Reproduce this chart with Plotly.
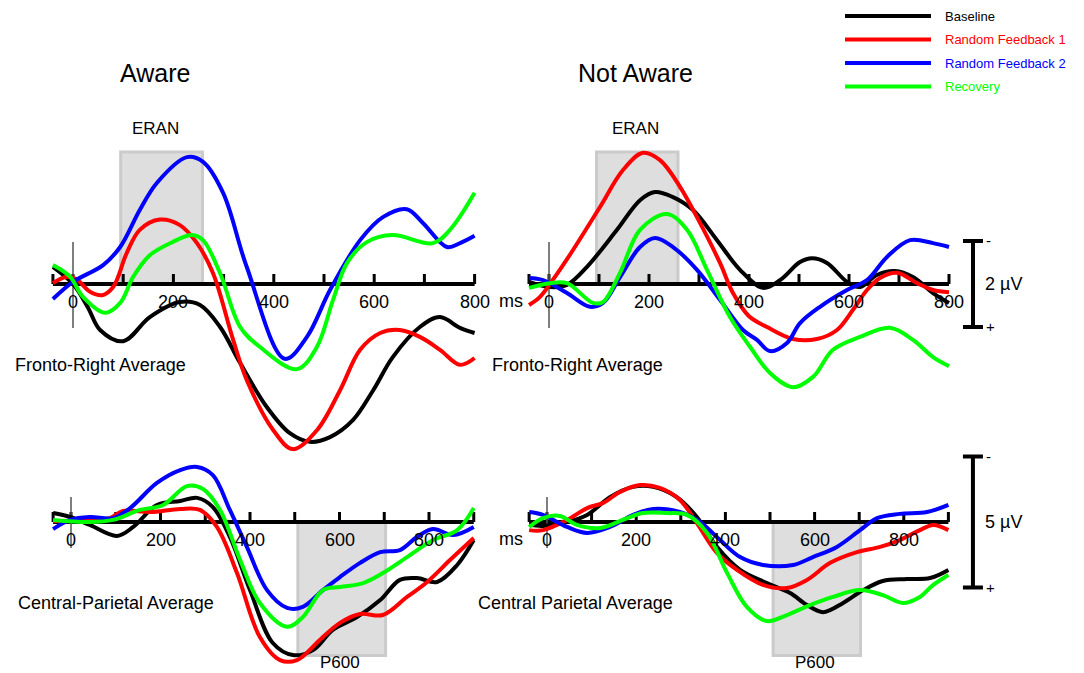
import plotly.graph_objects as go

W, H = 1084, 673
FONT = "Liberation Sans, Arial, sans-serif"

series_names = ["Baseline", "Random Feedback 1", "Random Feedback 2", "Recovery"]
series_colors = ["#000000", "#ff0000", "#0000ff", "#00ff00"]

# ---- Aware, fronto-right average (time in ms, amplitude in µV) ----
tl_black_t = [-40, 0, 30, 54, 100, 153, 213, 253, 293, 333, 386, 432, 472, 512, 558, 598, 637, 691, 731, 771, 800]
tl_black_v = [-0.4, 0.0, 0.55, 1.07, 1.33, 0.77, 0.42, 0.49, 1.0, 1.84, 2.86, 3.47, 3.67, 3.56, 3.16, 2.47, 1.70, 1.0, 0.77, 1.02, 1.14]
tl_red_t = [-40, -12, 8, 34, 58, 80, 107, 133, 173, 213, 247, 279, 319, 346, 399, 438, 486, 532, 572, 612, 651, 691, 731, 771, 800]
tl_red_v = [-0.02, -0.17, -0.1, 0.18, 0.26, 0.07, -0.72, -1.26, -1.5, -1.37, -0.95, -0.25, 1.3, 2.23, 3.40, 3.84, 3.40, 2.47, 1.53, 1.14, 1.07, 1.23, 1.53, 1.88, 1.72]
tl_blue_t = [-40, 0, 60, 94, 133, 167, 227, 259, 299, 346, 422, 466, 512, 572, 618, 665, 697, 745, 771, 800]
tl_blue_v = [0.35, -0.05, -0.44, -0.86, -1.72, -2.35, -2.95, -2.84, -2.12, -0.4, 1.74, 1.23, 0.14, -1.02, -1.56, -1.74, -1.42, -0.86, -0.95, -1.12]
tl_green_t = [-40, -6, 20, 64, 94, 120, 153, 199, 237, 259, 293, 333, 372, 446, 486, 518, 546, 586, 637, 717, 751, 800]
tl_green_v = [-0.44, -0.17, 0.30, 0.67, 0.44, -0.17, -0.67, -0.98, -1.14, -1.02, -0.25, 1.0, 1.46, 1.98, 1.46, 0.37, -0.49, -0.98, -1.14, -0.95, -1.26, -2.12]

# ---- Not aware, fronto-right average ----
tr_black_t = [-40, 2, 36, 76, 136, 182, 212, 248, 288, 336, 382, 428, 462, 502, 526, 556, 596, 622, 656, 692, 728, 768, 800]
tr_black_v = [-0.05, 0.07, 0.02, -0.4, -1.26, -1.95, -2.14, -2.02, -1.72, -1.02, -0.33, 0.09, -0.09, -0.51, -0.6, -0.49, -0.05, 0.07, -0.21, -0.3, -0.16, 0.21, 0.44]
tr_red_t = [-40, -18, 8, 48, 102, 148, 188, 222, 262, 302, 342, 368, 400, 436, 488, 536, 576, 608, 636, 662, 696, 736, 768, 800]
tr_red_v = [0.49, 0.3, -0.1, -0.79, -1.79, -2.65, -3.05, -2.88, -2.26, -1.42, -0.49, 0.21, 0.75, 1.0, 1.28, 1.28, 1.07, 0.6, 0.14, -0.14, -0.26, -0.02, 0.14, 0.19]
tr_blue_t = [-40, -12, 36, 82, 108, 142, 182, 212, 248, 296, 342, 388, 416, 442, 476, 502, 542, 596, 636, 676, 722, 768, 800]
tr_blue_v = [-0.14, -0.09, 0.21, 0.53, 0.44, -0.16, -0.86, -1.07, -0.86, -0.33, 0.37, 1.07, 1.30, 1.56, 1.37, 0.91, 0.53, 0.14, -0.09, -0.63, -1.02, -0.95, -0.86]
tr_green_t = [-40, 2, 36, 88, 108, 142, 182, 236, 276, 316, 362, 402, 442, 488, 528, 568, 622, 682, 728, 768, 800]
tr_green_v = [0.09, -0.02, -0.02, 0.44, 0.42, -0.26, -1.26, -1.63, -1.26, -0.33, 0.77, 1.46, 2.07, 2.40, 2.16, 1.53, 1.23, 1.02, 1.30, 1.70, 1.91]

# ---- Aware, central-parietal average ----
bl_black_t = [-40, -2, 42, 103, 139, 192, 244, 282, 317, 355, 400, 451, 496, 541, 585, 639, 691, 735, 773, 818, 863, 900]
bl_black_v = [-0.34, -0.19, 0.11, 0.53, 0.19, -0.65, -0.80, -0.92, -0.57, 0.57, 2.60, 4.62, 5.08, 4.89, 4.12, 3.63, 2.98, 2.21, 2.14, 2.29, 1.64, 0.69]
bl_red_t = [-40, 42, 87, 116, 177, 244, 288, 326, 371, 422, 467, 505, 556, 601, 646, 697, 751, 796, 847, 900]
bl_red_v = [-0.04, -0.08, -0.15, -0.42, -0.38, -0.50, -0.46, 0.19, 1.95, 4.39, 5.27, 5.27, 4.50, 3.85, 3.51, 3.55, 2.86, 2.29, 1.45, 0.61]
bl_blue_t = [-40, -2, 42, 94, 132, 192, 244, 282, 317, 355, 393, 438, 483, 518, 563, 601, 646, 691, 735, 773, 809, 854, 900]
bl_blue_v = [0.27, -0.08, -0.19, -0.15, -0.53, -1.49, -1.98, -2.10, -1.79, -0.46, 0.95, 2.60, 3.28, 3.24, 2.60, 2.10, 1.56, 1.15, 1.07, 0.57, 0.27, 0.50, 0.19]
bl_green_t = [-40, 42, 94, 154, 206, 259, 295, 333, 378, 422, 483, 518, 563, 601, 653, 697, 751, 809, 863, 900]
bl_green_v = [-0.08, 0.0, -0.08, -0.46, -0.65, -1.37, -1.26, -0.46, 1.45, 3.09, 4.0, 3.63, 2.60, 2.48, 2.33, 1.95, 1.34, 0.69, 0.31, -0.53]

# ---- Not aware, central parietal average ----
br_black_t = [-40, -9, 45, 90, 141, 193, 238, 291, 336, 381, 433, 493, 545, 583, 619, 664, 709, 753, 807, 859, 900]
br_black_v = [0.11, 0.15, 0.0, -0.27, -0.95, -1.34, -1.34, -0.95, -0.19, 0.95, 1.83, 2.33, 2.71, 3.17, 3.44, 3.09, 2.60, 2.25, 2.18, 2.14, 1.83]
br_red_t = [-40, -9, 45, 90, 126, 164, 209, 253, 298, 336, 381, 426, 484, 538, 583, 635, 695, 747, 791, 836, 866, 900]
br_red_v = [0.31, 0.31, -0.08, -0.53, -0.73, -1.15, -1.41, -1.30, -0.84, 0.04, 1.18, 1.83, 2.40, 2.52, 2.21, 1.56, 1.15, 0.95, 0.69, 0.31, 0.11, 0.31]
br_blue_t = [-40, -9, 45, 90, 141, 193, 238, 298, 343, 388, 433, 484, 552, 596, 650, 702, 740, 791, 852, 900]
br_blue_v = [-0.38, -0.27, 0.19, 0.42, 0.19, -0.27, -0.50, -0.38, 0.0, 0.69, 1.34, 1.64, 1.64, 1.34, 0.95, 0.31, -0.15, -0.31, -0.38, -0.65]
br_green_t = [-40, -9, 29, 67, 119, 170, 215, 269, 314, 359, 404, 448, 493, 538, 590, 641, 702, 753, 798, 836, 866, 900]
br_green_v = [0.19, -0.15, -0.23, 0.11, 0.23, -0.08, -0.34, -0.34, -0.27, 0.42, 1.95, 3.24, 3.78, 3.55, 3.17, 2.86, 2.60, 2.79, 3.09, 2.86, 2.40, 2.02]

# time axes: ticks every 100 ms plus one at the start of the epoch
top_ticks = [-40, 0, 100, 200, 300, 400, 500, 600, 700, 800]
bottom_ticks = [-40, 0, 100, 200, 300, 400, 500, 600, 700, 800, 900]
tick_labels = [0, 200, 400, 600, 800]

# analysis windows (ms) and their depth (µV)
eran_window = (95, 258)
p600_window = (507, 703)

fig = go.Figure()

# pixel layout of each panel: box (left, right, top, bottom), position of t=0 and
# 0 µV, and scale (px per ms, px per µV); negative is plotted upward
panels = {
    "tl": dict(ax="", box=(0, 500, 95, 465), t0=73, ppms=0.502, v0=284, ppuv=43.0,
               data=[(tl_black_t, tl_black_v), (tl_red_t, tl_red_v), (tl_blue_t, tl_blue_v), (tl_green_t, tl_green_v)],
               ticks=top_ticks, zl=(42, -44), window=eran_window, wdepth=-3.07),
    "tr": dict(ax="2", box=(500, 1084, 95, 465), t0=549, ppms=0.500, v0=284, ppuv=43.0,
               data=[(tr_black_t, tr_black_v), (tr_red_t, tr_red_v), (tr_blue_t, tr_blue_v), (tr_green_t, tr_green_v)],
               ticks=top_ticks, zl=(42, -44), window=eran_window, wdepth=-3.07),
    "bl": dict(ax="3", box=(0, 500, 440, 673), t0=71, ppms=0.4475, v0=522, ppuv=26.2,
               data=[(bl_black_t, bl_black_v), (bl_red_t, bl_red_v), (bl_blue_t, bl_blue_v), (bl_green_t, bl_green_v)],
               ticks=bottom_ticks, zl=(25, -26), window=p600_window, wdepth=5.1),
    "br": dict(ax="4", box=(500, 1084, 440, 673), t0=547, ppms=0.446, v0=522, ppuv=26.2,
               data=[(br_black_t, br_black_v), (br_red_t, br_red_v), (br_blue_t, br_blue_v), (br_green_t, br_green_v)],
               ticks=bottom_ticks, zl=(25, -26), window=p600_window, wdepth=5.1),
}

shapes = []
annotations = []
layout_axes = {}

for key, p in panels.items():
    l, r, t, b = p["box"]
    xa, ya = "x" + p["ax"], "y" + p["ax"]
    xr = [(l - p["t0"]) / p["ppms"], (r - p["t0"]) / p["ppms"]]
    yr = [(b - p["v0"]) / p["ppuv"], (t - p["v0"]) / p["ppuv"]]
    common = dict(visible=False, showgrid=False, zeroline=False, fixedrange=True)
    layout_axes["xaxis" + p["ax"]] = dict(domain=[l / W, r / W], range=xr, anchor=ya, **common)
    layout_axes["yaxis" + p["ax"]] = dict(domain=[1 - b / H, 1 - t / H], range=yr, anchor=xa, **common)

    # shaded component window
    w0, w1 = p["window"]
    shapes.append(dict(type="rect", xref=xa, yref=ya, x0=w0, x1=w1, y0=0, y1=p["wdepth"],
                       fillcolor="#dedede", line=dict(color="#cbcbcb", width=3), layer="below"))
    # time axis line
    ticks = p["ticks"]
    shapes.append(dict(type="line", xref=xa, yref=ya, x0=ticks[0], x1=ticks[-1], y0=0, y1=0,
                       line=dict(color="black", width=4), layer="below"))
    for tk in ticks:
        shapes.append(dict(type="line", xref=xa, yref=ya, x0=tk, x1=tk, ysizemode="pixel", yanchor=0,
                           y0=0, y1=10, line=dict(color="black", width=3), layer="below"))
    # stimulus onset marker
    up, down = p["zl"]
    shapes.append(dict(type="line", xref=xa, yref=ya, x0=0, x1=0, ysizemode="pixel", yanchor=0,
                       y0=down, y1=up, line=dict(color="#555555", width=1.5), layer="below"))
    for lab in tick_labels:
        annotations.append(dict(x=lab, y=0, xref=xa, yref=ya, text=str(lab), showarrow=False,
                                yshift=-18, font=dict(family=FONT, size=18, color="black")))

    for (tt, vv), name, col in zip(p["data"], series_names, series_colors):
        fig.add_trace(go.Scatter(x=tt, y=vv, mode="lines", name=name, showlegend=False,
                                 line=dict(color=col, width=4, shape="spline", smoothing=1.0),
                                 xaxis=xa, yaxis=ya, hoverinfo="skip"))

# calibration bars on the right-hand panels
for key, t_bar, half, label in (("tr", 848, 1.0, "2 µV"), ("br", 955, 2.5, "5 µV")):
    p = panels[key]
    xa, ya = "x" + p["ax"], "y" + p["ax"]
    shapes.append(dict(type="line", xref=xa, yref=ya, x0=t_bar, x1=t_bar, y0=-half, y1=half,
                       line=dict(color="black", width=4)))
    for yy in (-half, half):
        shapes.append(dict(type="line", xref=xa, yref=ya, xsizemode="pixel", xanchor=t_bar,
                           x0=-10, x1=10, y0=yy, y1=yy, line=dict(color="black", width=4)))
    annotations.append(dict(x=t_bar, y=0, xref=xa, yref=ya, text=label, showarrow=False,
                            xanchor="left", xshift=10, font=dict(family=FONT, size=18, color="black")))
    annotations.append(dict(x=t_bar, y=-half, xref=xa, yref=ya, text="-", showarrow=False,
                            xanchor="left", xshift=11, font=dict(family=FONT, size=15, color="black")))
    annotations.append(dict(x=t_bar, y=half, xref=xa, yref=ya, text="+", showarrow=False,
                            xanchor="left", xshift=11, font=dict(family=FONT, size=15, color="black")))


def paper_text(text, px, py, size, anchor="center"):
    annotations.append(dict(x=px / W, y=1 - py / H, xref="paper", yref="paper", text=text,
                            showarrow=False, xanchor=anchor, yanchor="middle",
                            font=dict(family=FONT, size=size, color="black")))


paper_text("Aware", 155, 73, 25)
paper_text("Not Aware", 635, 73, 25)
paper_text("ERAN", 155, 128, 17)
paper_text("ERAN", 635, 128, 17)
paper_text("P600", 340, 662, 17)
paper_text("P600", 815, 662, 17)
paper_text("Fronto-Right Average", 100, 365, 18)
paper_text("Fronto-Right Average", 577, 365, 18)
paper_text("Central-Parietal Average", 116, 603, 18)
paper_text("Central Parietal Average", 575, 603, 18)
paper_text("ms", 511, 301, 18)
paper_text("ms", 511, 539, 18)

# legend
for i, (name, col) in enumerate(zip(series_names, series_colors)):
    yy = 1 - (16 + 23.5 * i) / H
    shapes.append(dict(type="line", xref="paper", yref="paper", x0=845 / W, x1=931 / W, y0=yy, y1=yy,
                       line=dict(color=col, width=4)))
    annotations.append(dict(x=943 / W, y=yy, xref="paper", yref="paper", text=name, showarrow=False,
                            xanchor="left", yanchor="middle", font=dict(family=FONT, size=13, color=col)))

fig.update_layout(width=W, height=H, margin=dict(l=0, r=0, t=0, b=0),
                  paper_bgcolor="white", plot_bgcolor="rgba(0,0,0,0)",
                  shapes=shapes, annotations=annotations, showlegend=False, **layout_axes)

fig.write_html("out.html")
